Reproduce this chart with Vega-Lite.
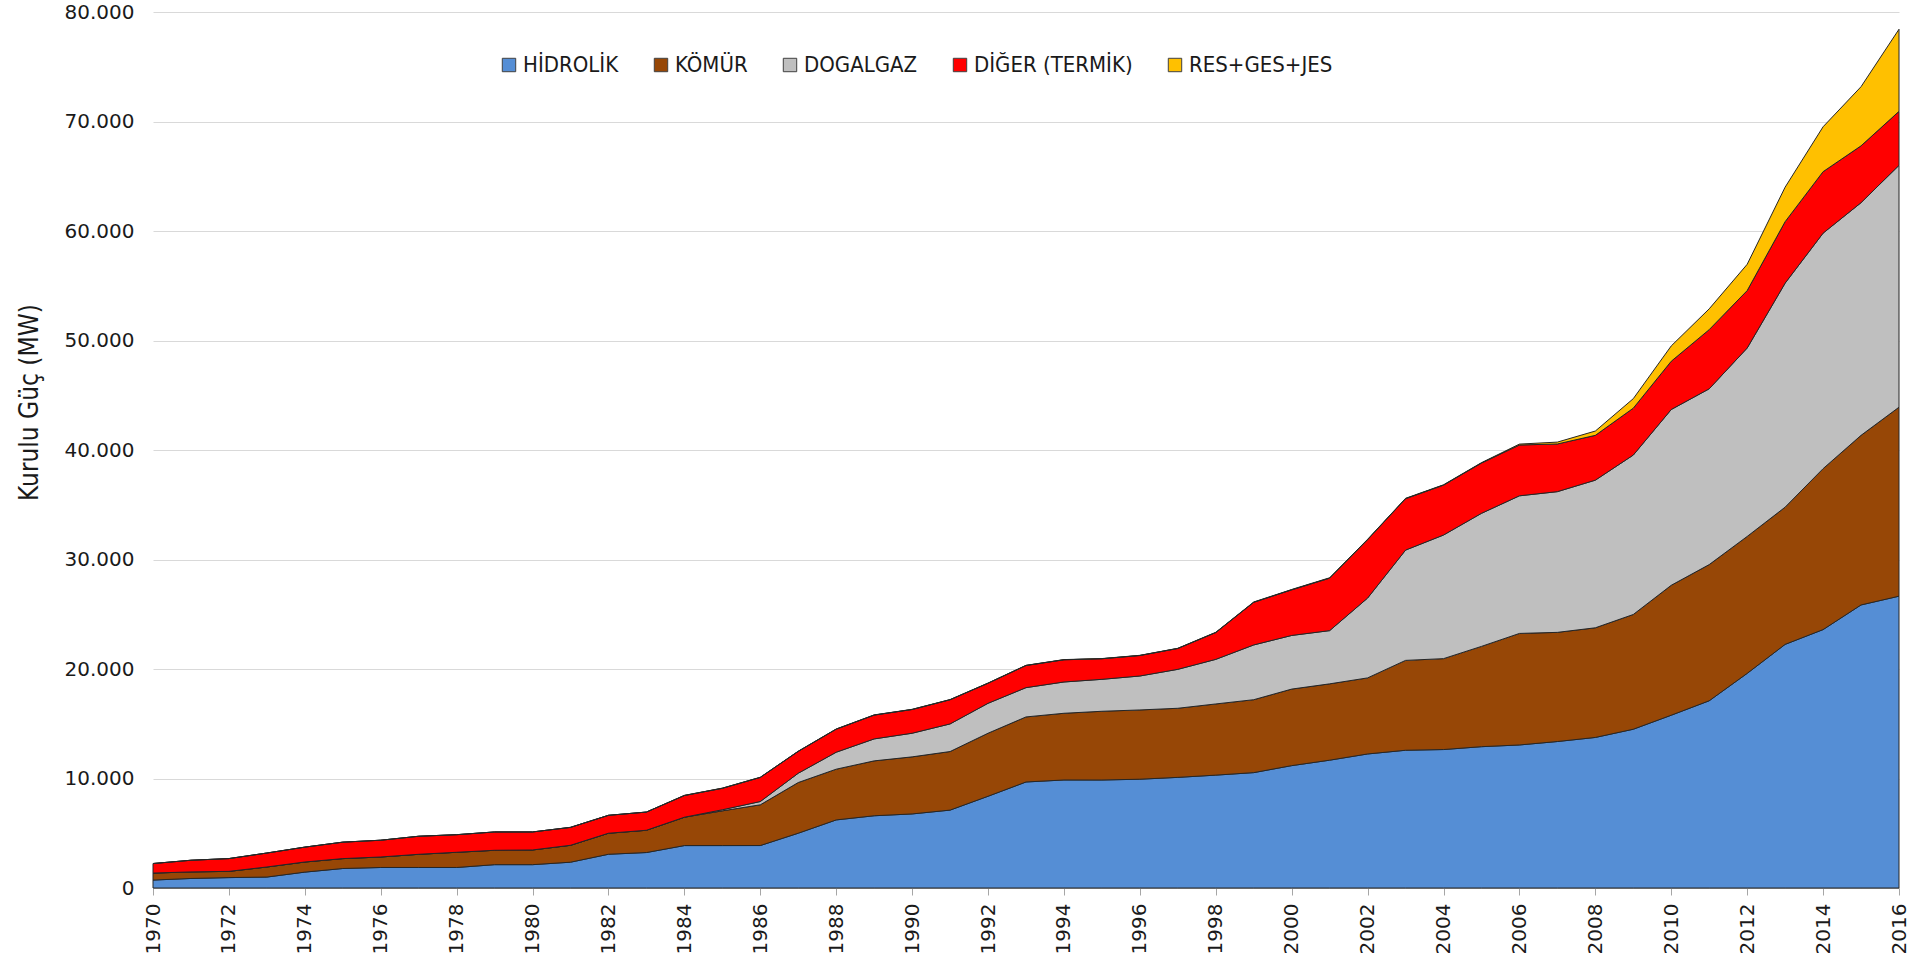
{
  "$schema": "https://vega.github.io/schema/vega-lite/v6.json",
  "width": 1746,
  "height": 876,
  "autosize": {"type": "none"},
  "padding": {"left": 153, "top": 12, "right": 16, "bottom": 72},
  "background": "white",
  "config": {
    "locale": {"number": {"decimal": ",", "thousands": ".", "grouping": [3], "currency": ["", ""]}},
    "view": {"stroke": null},
    "font": "DejaVu Sans"
  },
  "data": {"values": [
    {"year":1970,"tip":"HİDROLİK","mw":725},{"year":1970,"tip":"KÖMÜR","mw":640},{"year":1970,"tip":"DOGALGAZ","mw":0},{"year":1970,"tip":"DİĞER (TERMİK)","mw":870},{"year":1970,"tip":"RES+GES+JES","mw":0},
    {"year":1971,"tip":"HİDROLİK","mw":870},{"year":1971,"tip":"KÖMÜR","mw":600},{"year":1971,"tip":"DOGALGAZ","mw":0},{"year":1971,"tip":"DİĞER (TERMİK)","mw":1065},{"year":1971,"tip":"RES+GES+JES","mw":0},
    {"year":1972,"tip":"HİDROLİK","mw":950},{"year":1972,"tip":"KÖMÜR","mw":570},{"year":1972,"tip":"DOGALGAZ","mw":0},{"year":1972,"tip":"DİĞER (TERMİK)","mw":1167},{"year":1972,"tip":"RES+GES+JES","mw":0},
    {"year":1973,"tip":"HİDROLİK","mw":1000},{"year":1973,"tip":"KÖMÜR","mw":920},{"year":1973,"tip":"DOGALGAZ","mw":0},{"year":1973,"tip":"DİĞER (TERMİK)","mw":1274},{"year":1973,"tip":"RES+GES+JES","mw":0},
    {"year":1974,"tip":"HİDROLİK","mw":1450},{"year":1974,"tip":"KÖMÜR","mw":925},{"year":1974,"tip":"DOGALGAZ","mw":0},{"year":1974,"tip":"DİĞER (TERMİK)","mw":1358},{"year":1974,"tip":"RES+GES+JES","mw":0},
    {"year":1975,"tip":"HİDROLİK","mw":1780},{"year":1975,"tip":"KÖMÜR","mw":905},{"year":1975,"tip":"DOGALGAZ","mw":0},{"year":1975,"tip":"DİĞER (TERMİK)","mw":1502},{"year":1975,"tip":"RES+GES+JES","mw":0},
    {"year":1976,"tip":"HİDROLİK","mw":1873},{"year":1976,"tip":"KÖMÜR","mw":960},{"year":1976,"tip":"DOGALGAZ","mw":0},{"year":1976,"tip":"DİĞER (TERMİK)","mw":1531},{"year":1976,"tip":"RES+GES+JES","mw":0},
    {"year":1977,"tip":"HİDROLİK","mw":1873},{"year":1977,"tip":"KÖMÜR","mw":1205},{"year":1977,"tip":"DOGALGAZ","mw":0},{"year":1977,"tip":"DİĞER (TERMİK)","mw":1649},{"year":1977,"tip":"RES+GES+JES","mw":0},
    {"year":1978,"tip":"HİDROLİK","mw":1873},{"year":1978,"tip":"KÖMÜR","mw":1390},{"year":1978,"tip":"DOGALGAZ","mw":0},{"year":1978,"tip":"DİĞER (TERMİK)","mw":1606},{"year":1978,"tip":"RES+GES+JES","mw":0},
    {"year":1979,"tip":"HİDROLİK","mw":2131},{"year":1979,"tip":"KÖMÜR","mw":1315},{"year":1979,"tip":"DOGALGAZ","mw":0},{"year":1979,"tip":"DİĞER (TERMİK)","mw":1673},{"year":1979,"tip":"RES+GES+JES","mw":0},
    {"year":1980,"tip":"HİDROLİK","mw":2131},{"year":1980,"tip":"KÖMÜR","mw":1345},{"year":1980,"tip":"DOGALGAZ","mw":0},{"year":1980,"tip":"DİĞER (TERMİK)","mw":1643},{"year":1980,"tip":"RES+GES+JES","mw":0},
    {"year":1981,"tip":"HİDROLİK","mw":2356},{"year":1981,"tip":"KÖMÜR","mw":1545},{"year":1981,"tip":"DOGALGAZ","mw":0},{"year":1981,"tip":"DİĞER (TERMİK)","mw":1637},{"year":1981,"tip":"RES+GES+JES","mw":0},
    {"year":1982,"tip":"HİDROLİK","mw":3082},{"year":1982,"tip":"KÖMÜR","mw":1920},{"year":1982,"tip":"DOGALGAZ","mw":0},{"year":1982,"tip":"DİĞER (TERMİK)","mw":1637},{"year":1982,"tip":"RES+GES+JES","mw":0},
    {"year":1983,"tip":"HİDROLİK","mw":3239},{"year":1983,"tip":"KÖMÜR","mw":2035},{"year":1983,"tip":"DOGALGAZ","mw":0},{"year":1983,"tip":"DİĞER (TERMİK)","mw":1661},{"year":1983,"tip":"RES+GES+JES","mw":0},
    {"year":1984,"tip":"HİDROLİK","mw":3875},{"year":1984,"tip":"KÖMÜR","mw":2590},{"year":1984,"tip":"DOGALGAZ","mw":0},{"year":1984,"tip":"DİĞER (TERMİK)","mw":1980},{"year":1984,"tip":"RES+GES+JES","mw":17},
    {"year":1985,"tip":"HİDROLİK","mw":3875},{"year":1985,"tip":"KÖMÜR","mw":3170},{"year":1985,"tip":"DOGALGAZ","mw":100},{"year":1985,"tip":"DİĞER (TERMİK)","mw":1960},{"year":1985,"tip":"RES+GES+JES","mw":17},
    {"year":1986,"tip":"HİDROLİK","mw":3878},{"year":1986,"tip":"KÖMÜR","mw":3720},{"year":1986,"tip":"DOGALGAZ","mw":300},{"year":1986,"tip":"DİĞER (TERMİK)","mw":2200},{"year":1986,"tip":"RES+GES+JES","mw":17},
    {"year":1987,"tip":"HİDROLİK","mw":5003},{"year":1987,"tip":"KÖMÜR","mw":4630},{"year":1987,"tip":"DOGALGAZ","mw":850},{"year":1987,"tip":"DİĞER (TERMİK)","mw":1995},{"year":1987,"tip":"RES+GES+JES","mw":17},
    {"year":1988,"tip":"HİDROLİK","mw":6218},{"year":1988,"tip":"KÖMÜR","mw":4633},{"year":1988,"tip":"DOGALGAZ","mw":1550},{"year":1988,"tip":"DİĞER (TERMİK)","mw":2103},{"year":1988,"tip":"RES+GES+JES","mw":17},
    {"year":1989,"tip":"HİDROLİK","mw":6597},{"year":1989,"tip":"KÖMÜR","mw":5014},{"year":1989,"tip":"DOGALGAZ","mw":2006},{"year":1989,"tip":"DİĞER (TERMİK)","mw":2174},{"year":1989,"tip":"RES+GES+JES","mw":17},
    {"year":1990,"tip":"HİDROLİK","mw":6764},{"year":1990,"tip":"KÖMÜR","mw":5212},{"year":1990,"tip":"DOGALGAZ","mw":2158},{"year":1990,"tip":"DİĞER (TERMİK)","mw":2167},{"year":1990,"tip":"RES+GES+JES","mw":17},
    {"year":1991,"tip":"HİDROLİK","mw":7114},{"year":1991,"tip":"KÖMÜR","mw":5348},{"year":1991,"tip":"DOGALGAZ","mw":2523},{"year":1991,"tip":"DİĞER (TERMİK)","mw":2207},{"year":1991,"tip":"RES+GES+JES","mw":17},
    {"year":1992,"tip":"HİDROLİK","mw":8379},{"year":1992,"tip":"KÖMÜR","mw":5755},{"year":1992,"tip":"DOGALGAZ","mw":2735},{"year":1992,"tip":"DİĞER (TERMİK)","mw":1830},{"year":1992,"tip":"RES+GES+JES","mw":17},
    {"year":1993,"tip":"HİDROLİK","mw":9682},{"year":1993,"tip":"KÖMÜR","mw":5941},{"year":1993,"tip":"DOGALGAZ","mw":2675},{"year":1993,"tip":"DİĞER (TERMİK)","mw":2021},{"year":1993,"tip":"RES+GES+JES","mw":17},
    {"year":1994,"tip":"HİDROLİK","mw":9865},{"year":1994,"tip":"KÖMÜR","mw":6092},{"year":1994,"tip":"DOGALGAZ","mw":2858},{"year":1994,"tip":"DİĞER (TERMİK)","mw":2028},{"year":1994,"tip":"RES+GES+JES","mw":17},
    {"year":1995,"tip":"HİDROLİK","mw":9863},{"year":1995,"tip":"KÖMÜR","mw":6277},{"year":1995,"tip":"DOGALGAZ","mw":2918},{"year":1995,"tip":"DİĞER (TERMİK)","mw":1879},{"year":1995,"tip":"RES+GES+JES","mw":17},
    {"year":1996,"tip":"HİDROLİK","mw":9935},{"year":1996,"tip":"KÖMÜR","mw":6326},{"year":1996,"tip":"DOGALGAZ","mw":3101},{"year":1996,"tip":"DİĞER (TERMİK)","mw":1870},{"year":1996,"tip":"RES+GES+JES","mw":17},
    {"year":1997,"tip":"HİDROLİK","mw":10103},{"year":1997,"tip":"KÖMÜR","mw":6310},{"year":1997,"tip":"DOGALGAZ","mw":3557},{"year":1997,"tip":"DİĞER (TERMİK)","mw":1905},{"year":1997,"tip":"RES+GES+JES","mw":17},
    {"year":1998,"tip":"HİDROLİK","mw":10307},{"year":1998,"tip":"KÖMÜR","mw":6502},{"year":1998,"tip":"DOGALGAZ","mw":4072},{"year":1998,"tip":"DİĞER (TERMİK)","mw":2447},{"year":1998,"tip":"RES+GES+JES","mw":26},
    {"year":1999,"tip":"HİDROLİK","mw":10537},{"year":1999,"tip":"KÖMÜR","mw":6660},{"year":1999,"tip":"DOGALGAZ","mw":5001},{"year":1999,"tip":"DİĞER (TERMİK)","mw":3895},{"year":1999,"tip":"RES+GES+JES","mw":26},
    {"year":2000,"tip":"HİDROLİK","mw":11175},{"year":2000,"tip":"KÖMÜR","mw":6990},{"year":2000,"tip":"DOGALGAZ","mw":4900},{"year":2000,"tip":"DİĞER (TERMİK)","mw":4163},{"year":2000,"tip":"RES+GES+JES","mw":36},
    {"year":2001,"tip":"HİDROLİK","mw":11673},{"year":2001,"tip":"KÖMÜR","mw":6971},{"year":2001,"tip":"DOGALGAZ","mw":4861},{"year":2001,"tip":"DİĞER (TERMİK)","mw":4791},{"year":2001,"tip":"RES+GES+JES","mw":36},
    {"year":2002,"tip":"HİDROLİK","mw":12241},{"year":2002,"tip":"KÖMÜR","mw":6947},{"year":2002,"tip":"DOGALGAZ","mw":7291},{"year":2002,"tip":"DİĞER (TERMİK)","mw":5331},{"year":2002,"tip":"RES+GES+JES","mw":36},
    {"year":2003,"tip":"HİDROLİK","mw":12579},{"year":2003,"tip":"KÖMÜR","mw":8208},{"year":2003,"tip":"DOGALGAZ","mw":10073},{"year":2003,"tip":"DİĞER (TERMİK)","mw":4693},{"year":2003,"tip":"RES+GES+JES","mw":34},
    {"year":2004,"tip":"HİDROLİK","mw":12645},{"year":2004,"tip":"KÖMÜR","mw":8302},{"year":2004,"tip":"DOGALGAZ","mw":11288},{"year":2004,"tip":"DİĞER (TERMİK)","mw":4555},{"year":2004,"tip":"RES+GES+JES","mw":34},
    {"year":2005,"tip":"HİDROLİK","mw":12906},{"year":2005,"tip":"KÖMÜR","mw":9160},{"year":2005,"tip":"DOGALGAZ","mw":12152},{"year":2005,"tip":"DİĞER (TERMİK)","mw":4590},{"year":2005,"tip":"RES+GES+JES","mw":35},
    {"year":2006,"tip":"HİDROLİK","mw":13063},{"year":2006,"tip":"KÖMÜR","mw":10186},{"year":2006,"tip":"DOGALGAZ","mw":12568},{"year":2006,"tip":"DİĞER (TERMİK)","mw":4640},{"year":2006,"tip":"RES+GES+JES","mw":82},
    {"year":2007,"tip":"HİDROLİK","mw":13377},{"year":2007,"tip":"KÖMÜR","mw":9968},{"year":2007,"tip":"DOGALGAZ","mw":12852},{"year":2007,"tip":"DİĞER (TERMİK)","mw":4355},{"year":2007,"tip":"RES+GES+JES","mw":170},
    {"year":2008,"tip":"HİDROLİK","mw":13750},{"year":2008,"tip":"KÖMÜR","mw":10014},{"year":2008,"tip":"DOGALGAZ","mw":13482},{"year":2008,"tip":"DİĞER (TERMİK)","mw":4092},{"year":2008,"tip":"RES+GES+JES","mw":394},
    {"year":2009,"tip":"HİDROLİK","mw":14500},{"year":2009,"tip":"KÖMÜR","mw":10480},{"year":2009,"tip":"DOGALGAZ","mw":14560},{"year":2009,"tip":"DİĞER (TERMİK)","mw":4280},{"year":2009,"tip":"RES+GES+JES","mw":870},
    {"year":2010,"tip":"HİDROLİK","mw":15780},{"year":2010,"tip":"KÖMÜR","mw":11866},{"year":2010,"tip":"DOGALGAZ","mw":16053},{"year":2010,"tip":"DİĞER (TERMİK)","mw":4407},{"year":2010,"tip":"RES+GES+JES","mw":1400},
    {"year":2011,"tip":"HİDROLİK","mw":17100},{"year":2011,"tip":"KÖMÜR","mw":12435},{"year":2011,"tip":"DOGALGAZ","mw":16053},{"year":2011,"tip":"DİĞER (TERMİK)","mw":5404},{"year":2011,"tip":"RES+GES+JES","mw":1900},
    {"year":2012,"tip":"HİDROLİK","mw":19600},{"year":2012,"tip":"KÖMÜR","mw":12505},{"year":2012,"tip":"DOGALGAZ","mw":17207},{"year":2012,"tip":"DİĞER (TERMİK)","mw":5246},{"year":2012,"tip":"RES+GES+JES","mw":2400},
    {"year":2013,"tip":"HİDROLİK","mw":22250},{"year":2013,"tip":"KÖMÜR","mw":12531},{"year":2013,"tip":"DOGALGAZ","mw":20459},{"year":2013,"tip":"DİĞER (TERMİK)","mw":5613},{"year":2013,"tip":"RES+GES+JES","mw":3150},
    {"year":2014,"tip":"HİDROLİK","mw":23600},{"year":2014,"tip":"KÖMÜR","mw":14696},{"year":2014,"tip":"DOGALGAZ","mw":21508},{"year":2014,"tip":"DİĞER (TERMİK)","mw":5613},{"year":2014,"tip":"RES+GES+JES","mw":4100},
    {"year":2015,"tip":"HİDROLİK","mw":25850},{"year":2015,"tip":"KÖMÜR","mw":15488},{"year":2015,"tip":"DOGALGAZ","mw":21247},{"year":2015,"tip":"DİĞER (TERMİK)","mw":5193},{"year":2015,"tip":"RES+GES+JES","mw":5400},
    {"year":2016,"tip":"HİDROLİK","mw":26650},{"year":2016,"tip":"KÖMÜR","mw":17259},{"year":2016,"tip":"DOGALGAZ","mw":22085},{"year":2016,"tip":"DİĞER (TERMİK)","mw":4932},{"year":2016,"tip":"RES+GES+JES","mw":7500}
  ]},
  "transform": [
    {"window": [{"op": "row_number", "as": "k"}], "groupby": ["year"]}
  ],
  "mark": {"type": "area", "stroke": "#262626", "strokeWidth": 1, "opacity": 1},
  "encoding": {
    "x": {
      "field": "year", "type": "quantitative",
      "scale": {"domain": [1970, 2016], "nice": false, "zero": false},
      "axis": {
        "title": null,
        "values": [1970,1972,1974,1976,1978,1980,1982,1984,1986,1988,1990,1992,1994,1996,1998,2000,2002,2004,2006,2008,2010,2012,2014,2016],
        "format": "d", "labelAngle": -90, "labelFlush": false, "labelOverlap": false,
        "labelFont": "DejaVu Sans", "labelFontSize": 20, "labelColor": "#1a1a1a",
        "tickColor": "#a6a6a6", "tickSize": 7, "domainColor": "#a6a6a6", "labelPadding": 8, "grid": false
      }
    },
    "y": {
      "field": "mw", "type": "quantitative", "stack": "zero",
      "scale": {"domain": [0, 80000], "nice": false},
      "axis": {
        "title": "Kurulu Güç (MW)",
        "values": [0,10000,20000,30000,40000,50000,60000,70000,80000],
        "format": ",d", "labelFont": "DejaVu Sans", "labelFontSize": 20, "labelColor": "#1a1a1a",
        "labelPadding": 19, "ticks": false, "domain": false, "labelFlush": false,
        "gridColor": "#d9d9d9", "gridWidth": 1,
        "titleFont": "DejaVu Sans Condensed, Liberation Sans", "titleFontSize": 26, "titleFontWeight": "normal",
        "titleColor": "#1a1a1a", "titleAngle": -90, "titleX": -124, "titleY": 390,
        "titleAlign": "center", "titleBaseline": "middle"
      }
    },
    "color": {
      "field": "tip", "type": "nominal",
      "scale": {
        "domain": ["HİDROLİK", "KÖMÜR", "DOGALGAZ", "DİĞER (TERMİK)", "RES+GES+JES"],
        "range": ["#558ED5", "#974706", "#BFBFBF", "#FF0000", "#FFC000"]
      },
      "legend": {
        "title": null, "orient": "none", "legendX": 345, "legendY": 42,
        "direction": "horizontal", "symbolType": "square", "symbolSize": 180,
        "symbolStrokeColor": "#404040", "symbolStrokeWidth": 1, "symbolOpacity": 1,
        "labelFont": "DejaVu Sans Condensed, Liberation Sans", "labelFontSize": 22, "labelColor": "#1a1a1a",
        "labelLimit": 0, "columnPadding": 31, "labelOffset": 3, "padding": 0
      }
    },
    "order": {"field": "k", "type": "quantitative"}
  }
}
